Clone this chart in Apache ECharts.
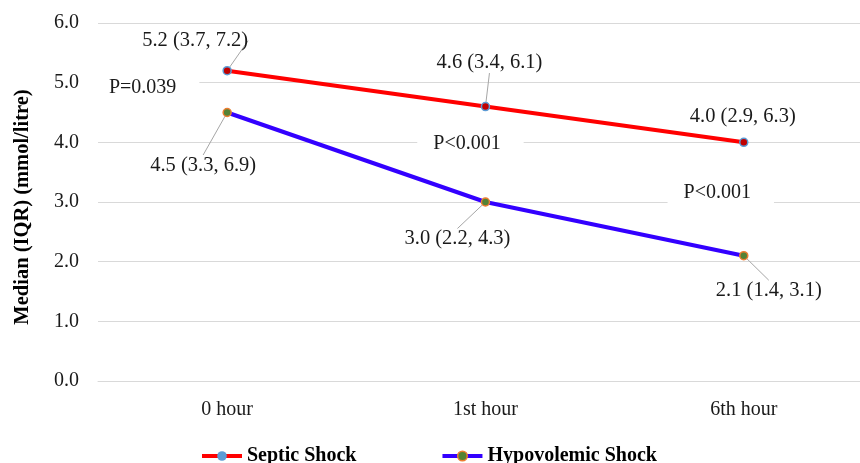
<!DOCTYPE html>
<html>
<head>
<meta charset="utf-8">
<style>
  html, body { margin: 0; padding: 0; background: #fff; }
  #chart { width: 860px; height: 463px; }
</style>
<script src="https://cdn.jsdelivr.net/npm/echarts@6/dist/echarts.min.js"></script>
</head>
<body>
<div id="chart"></div>
<script>
// Time points and lactate medians with interquartile ranges (mmol/litre)
const hours = ['0 hour', '1st hour', '6th hour'];
const septicMedian = [5.2, 4.6, 4.0];
const septicIQR = [[3.7, 7.2], [3.4, 6.1], [2.9, 6.3]];
const hypoMedian = [4.5, 3.0, 2.1];
const hypoIQR = [[3.3, 6.9], [2.2, 4.3], [1.4, 3.1]];
const pValues = ['P=0.039', 'P<0.001', 'P<0.001'];
const yTicks = [0, 1, 2, 3, 4, 5, 6];

const FONT = '"Liberation Serif", "Times New Roman", serif';
const TEXT = '#1a1a1a';
const FS = 20;

// Offsets of each value label from its point (px), per series
const septicLabelShift = [[-32, -30], [4, -44], [-1, -26]];
const hypoLabelShift = [[-24, 53], [-28, 37], [25, 35]];
// Which value labels get a leader line
const septicLeader = [true, true, false];
const hypoLeader = [true, true, true];
// Where the p-value notes sit: [time index, y value, x shift in px]
const pNoteAnchor = [[0, 4.91, -81], [1, 3.97, -15], [2, 3.15, -23]];

const fmt = v => v.toFixed(1);
const labelText = (m, iqr) => fmt(m) + ' (' + fmt(iqr[0]) + ', ' + fmt(iqr[1]) + ')';

const chart = echarts.init(document.getElementById('chart'), null, { renderer: 'canvas' });

const valueLabel = {
  show: true,
  position: 'inside',
  fontFamily: FONT,
  fontSize: 20.5,
  color: TEXT
};

const leaderStyle = { color: '#a6a6a6', width: 1 };

// Each time point sits in the middle of its own band on the x axis
const toPoints = (values, flags) =>
  values.map((v, i) => ({ value: [i, v], labelLine: { show: flags[i], lineStyle: leaderStyle } }));

chart.setOption({
  animation: false,
  backgroundColor: '#fff',
  grid: { left: 98, top: 23, right: 0, bottom: 82, containLabel: false },
  legend: {
    left: 195,
    top: 441,
    padding: 5,
    itemWidth: 40,
    itemHeight: 12,
    itemGap: 84,
    textStyle: { fontFamily: FONT, fontSize: 20, fontWeight: 'bold', color: '#000' },
    data: [
      {
        name: 'Septic Shock',
        itemStyle: { color: '#5b9bd5', borderColor: '#5b9bd5', borderWidth: 0 },
        lineStyle: { color: '#ff0000', width: 4 }
      },
      {
        name: 'Hypovolemic Shock',
        itemStyle: { color: '#548235', borderColor: '#ed7d31', borderWidth: 1.5 },
        lineStyle: { color: '#3300ff', width: 4 }
      }
    ]
  },
  xAxis: {
    type: 'value',
    min: -0.5,
    max: 2.45,
    splitLine: { show: false },
    axisLine: { show: true, onZero: false, lineStyle: { color: '#d9d9d9', width: 1 } },
    axisTick: { show: false },
    axisLabel: {
      customValues: [0, 1, 2],
      fontFamily: FONT,
      fontSize: FS,
      color: TEXT,
      margin: 19,
      formatter: v => hours[Math.round(v)]
    }
  },
  yAxis: {
    type: 'value',
    min: yTicks[0],
    max: yTicks[yTicks.length - 1],
    interval: 1,
    name: 'Median (IQR) (mmol/litre)',
    nameLocation: 'middle',
    nameGap: 65,
    nameTextStyle: { fontFamily: FONT, fontSize: 20.5, fontWeight: 'bold', color: '#000', padding: [0, 10, 0, 0] },
    axisLine: { show: false },
    axisTick: { show: false },
    axisLabel: { fontFamily: FONT, fontSize: FS, color: TEXT, margin: 19, formatter: v => v.toFixed(1) },
    splitLine: { lineStyle: { color: '#d9d9d9', width: 1 } }
  },
  series: [
    {
      name: 'Septic Shock',
      type: 'line',
      data: toPoints(septicMedian, septicLeader),
      symbol: 'circle',
      symbolSize: 8,
      z: 3,
      lineStyle: { color: '#ff0000', width: 4 },
      itemStyle: { color: '#c00000', borderColor: '#5b9bd5', borderWidth: 1.5 },
      label: Object.assign({}, valueLabel, {
        formatter: p => labelText(septicMedian[p.dataIndex], septicIQR[p.dataIndex])
      }),
      labelLine: { show: true, lineStyle: leaderStyle },
      labelLayout: p => ({ dx: septicLabelShift[p.dataIndex][0], dy: septicLabelShift[p.dataIndex][1] }),
      markPoint: {
        symbol: 'circle',
        symbolSize: 0,
        silent: true,
        label: {
          show: true,
          position: 'inside',
          fontFamily: FONT,
          fontSize: FS,
          color: TEXT,
          backgroundColor: '#fff',
          padding: [10, 23, 10, 16]
        },
        data: pNoteAnchor.map((a, i) => ({
          coord: [a[0], a[1]],
          value: pValues[i],
          label: { offset: [a[2], 0], formatter: pValues[i] }
        }))
      }
    },
    {
      name: 'Hypovolemic Shock',
      type: 'line',
      data: toPoints(hypoMedian, hypoLeader),
      symbol: 'circle',
      symbolSize: 8,
      z: 3,
      lineStyle: { color: '#3300ff', width: 4 },
      itemStyle: { color: '#548235', borderColor: '#ed7d31', borderWidth: 1.5 },
      label: Object.assign({}, valueLabel, {
        formatter: p => labelText(hypoMedian[p.dataIndex], hypoIQR[p.dataIndex])
      }),
      labelLine: { show: true, lineStyle: leaderStyle },
      labelLayout: p => ({ dx: hypoLabelShift[p.dataIndex][0], dy: hypoLabelShift[p.dataIndex][1] })
    }
  ]
});
</script>
</body>
</html>
